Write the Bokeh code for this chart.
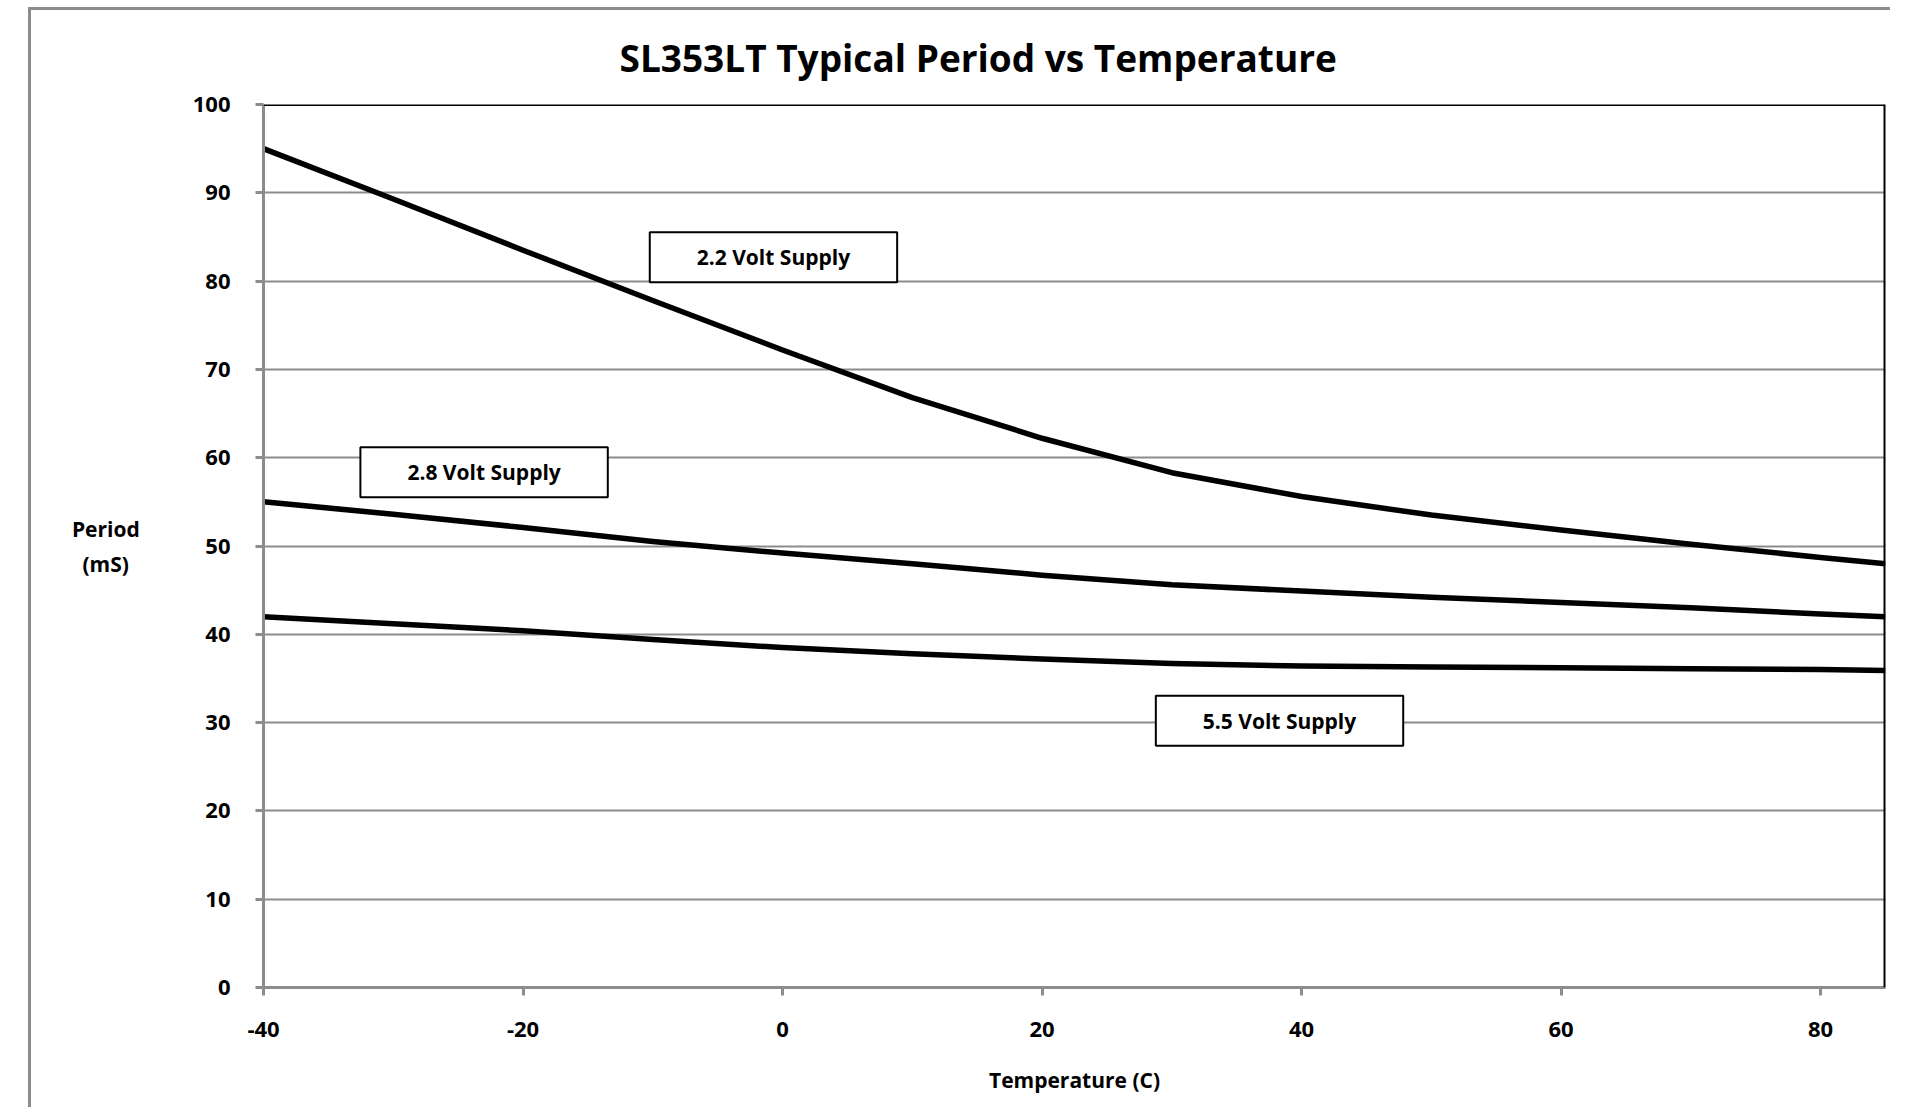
from bokeh.plotting import figure
from bokeh.models import Label, Span, FixedTicker, Range1d
from bokeh.embed import file_html
from bokeh.resources import INLINE

# ---- data ----
temps = [-40, -30, -20, -10, 0, 10, 20, 30, 40, 50, 60, 70, 80, 85]
v22 = [95.0, 89.3, 83.5, 77.8, 72.2, 66.8, 62.2, 58.3, 55.6, 53.5, 51.8, 50.2, 48.7, 48.0]
v28 = [55.0, 53.6, 52.1, 50.5, 49.2, 48.0, 46.7, 45.6, 44.9, 44.2, 43.6, 43.0, 42.3, 42.0]
v55 = [42.0, 41.2, 40.4, 39.4, 38.5, 37.8, 37.2, 36.7, 36.4, 36.3, 36.2, 36.1, 36.0, 35.9]
series = [v22, v28, v55]
series_labels = ["2.2 Volt Supply", "2.8 Volt Supply", "5.5 Volt Supply"]
label_pos = [(-0.7, 82.7), (-23.0, 58.35), (38.3, 30.2)]
x_ticks = [-40, -20, 0, 20, 40, 60, 80]
x_tick_labels = ["-40", "-20", "0", "20", "40", "60", "80"]
y_ticks = [0, 10, 20, 30, 40, 50, 60, 70, 80, 90, 100]
title_text = "SL353LT Typical Period vs Temperature"
x_title = "Temperature (C)"
y_title = "Period\n(mS)\u00a0\u00a0"

FONT = "Open Sans"
GRAY = "#8c8c8c"

p = figure(width=1862, height=1100, x_range=Range1d(-40, 85), y_range=Range1d(0, 100),
           output_backend="svg", toolbar_location=None,
           min_border_left=232, min_border_right=8, min_border_top=94, min_border_bottom=123)
p.margin = (7, 0, 0, 28)
p.styles = {"border-left": "3px solid #8c8c8c", "border-top": "3px solid #8c8c8c"}
p.outline_line_color = None
p.background_fill_color = "white"
p.border_fill_color = "white"

# title
p.title.text = title_text
p.title.align = "left"
p.title.offset = 356
p.title.standoff = 40
p.title.vertical_align = "top"
p.title.text_baseline = "top"
p.title.text_font = FONT
p.title.text_font_style = "bold"
p.title.text_font_size = "37px"
p.title.text_color = "black"

# grid
p.xgrid.visible = False
p.ygrid.ticker = FixedTicker(ticks=y_ticks)
p.ygrid.grid_line_color = GRAY
p.ygrid.grid_line_width = 2

# axes
for ax in (p.xaxis[0], p.yaxis[0]):
    ax.axis_line_color = GRAY
    ax.axis_line_width = 3
    ax.major_tick_line_color = GRAY
    ax.major_tick_line_width = 3
    ax.major_tick_out = 8
    ax.major_tick_in = 0
    ax.minor_tick_line_color = None
    ax.major_label_text_font = FONT
    ax.major_label_text_font_style = "bold"
    ax.major_label_text_font_size = "22px"
    ax.major_label_text_color = "black"
    ax.axis_label_text_font = FONT
    ax.axis_label_text_font_style = "bold"
    ax.axis_label_text_font_size = "21px"
    ax.axis_label_text_color = "black"

p.xaxis.ticker = FixedTicker(ticks=x_ticks)
p.xaxis.major_label_overrides = dict(zip(x_ticks, x_tick_labels))
p.yaxis.ticker = FixedTicker(ticks=y_ticks)
p.xaxis.major_label_standoff = 26
p.yaxis.major_label_standoff = 25
p.xaxis.axis_label = x_title
p.xaxis.axis_label_standoff = 26
p.yaxis.axis_label = y_title
p.yaxis.axis_label_orientation = "horizontal"
p.yaxis.axis_label_text_align = "center"
p.yaxis.axis_label_standoff = 50
p.yaxis.axis_label_text_line_height = 1.25

# top and right frame borders
p.add_layout(Span(location=100, dimension="width", line_color="black", line_width=3))
p.add_layout(Span(location=85, dimension="height", line_color="black", line_width=4))

# curves
for ys in series:
    p.line(temps, ys, line_color="black", line_width=5.5, line_join="round")

# boxed series labels
for txt, (lx, ly) in zip(series_labels, label_pos):
    p.add_layout(Label(x=lx, y=ly, text=txt, text_align="center", text_baseline="middle",
                       text_font=FONT, text_font_style="bold", text_font_size="21px",
                       text_color="black", background_fill_color="white",
                       border_line_color="black", border_line_width=2,
                       padding=dict(left=47, right=47, top=11, bottom=11)))

open("out.html", "w").write(file_html(p, INLINE))
